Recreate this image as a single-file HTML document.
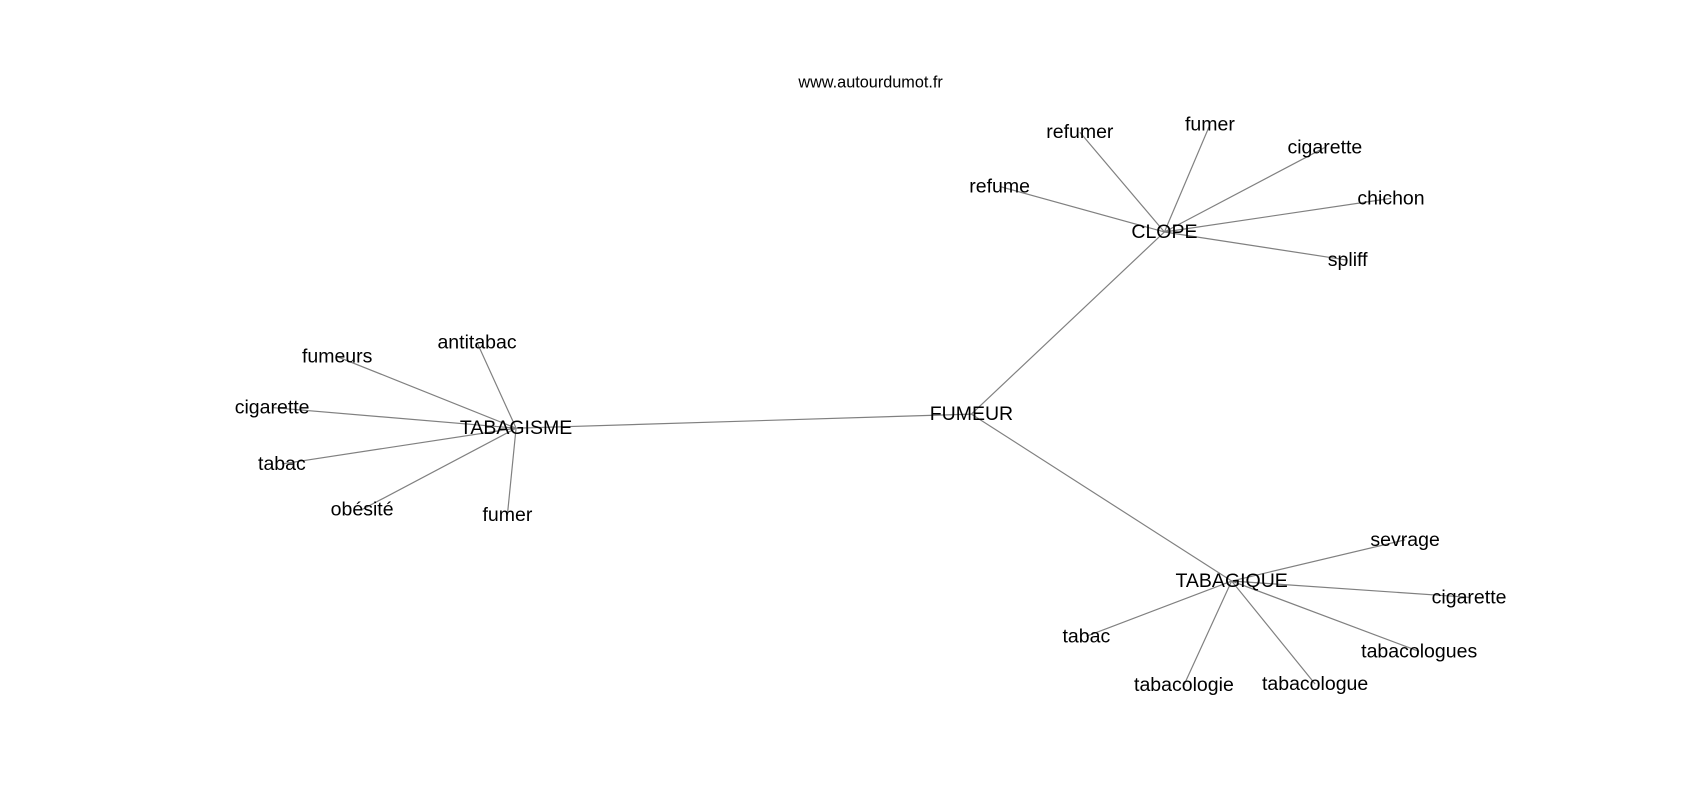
<!DOCTYPE html>
<html><head><meta charset="utf-8"><style>html,body{margin:0;padding:0;background:#fff}svg{display:block}</style></head>
<body>
<svg width="1700" height="800" viewBox="0 0 1568 738" preserveAspectRatio="none" xmlns="http://www.w3.org/2000/svg" font-family="Liberation Sans, DejaVu Sans, sans-serif">
<g stroke="#808080" stroke-width="1.1" fill="none">
<line x1="896" y1="382" x2="1074" y2="214"/>
<line x1="896" y1="382" x2="476" y2="395"/>
<line x1="896" y1="382" x2="1136" y2="536"/>
<line x1="1074" y1="214" x2="996" y2="122"/>
<line x1="1074" y1="214" x2="1116" y2="115"/>
<line x1="1074" y1="214" x2="1222" y2="136"/>
<line x1="1074" y1="214" x2="1283" y2="183"/>
<line x1="1074" y1="214" x2="1243" y2="240"/>
<line x1="1074" y1="214" x2="922" y2="172"/>
<line x1="476" y1="395" x2="440" y2="316"/>
<line x1="476" y1="395" x2="311" y2="329"/>
<line x1="476" y1="395" x2="251" y2="376"/>
<line x1="476" y1="395" x2="260" y2="428"/>
<line x1="476" y1="395" x2="334" y2="470"/>
<line x1="476" y1="395" x2="468" y2="475"/>
<line x1="1136" y1="536" x2="1296" y2="498"/>
<line x1="1136" y1="536" x2="1355" y2="551"/>
<line x1="1136" y1="536" x2="1309" y2="601"/>
<line x1="1136" y1="536" x2="1213" y2="631"/>
<line x1="1136" y1="536" x2="1092" y2="632"/>
<line x1="1136" y1="536" x2="1002" y2="587"/>
</g>
<g font-size="18" fill="#000" text-anchor="middle" dominant-baseline="central">
<text x="803" y="76" font-size="15">www.autourdumot.fr</text>
<text x="896" y="382">FUMEUR</text>
<text x="1074" y="214">CLOPE</text>
<text x="476" y="395">TABAGISME</text>
<text x="1136" y="536">TABAGIQUE</text>
<text x="996" y="122">refumer</text>
<text x="1116" y="115">fumer</text>
<text x="1222" y="136">cigarette</text>
<text x="1283" y="183">chichon</text>
<text x="1243" y="240">spliff</text>
<text x="922" y="172">refume</text>
<text x="440" y="316">antitabac</text>
<text x="311" y="329">fumeurs</text>
<text x="251" y="376">cigarette</text>
<text x="260" y="428">tabac</text>
<text x="334" y="470">obésité</text>
<text x="468" y="475">fumer</text>
<text x="1296" y="498">sevrage</text>
<text x="1355" y="551">cigarette</text>
<text x="1309" y="601">tabacologues</text>
<text x="1213" y="631">tabacologue</text>
<text x="1092" y="632">tabacologie</text>
<text x="1002" y="587">tabac</text>
</g>
</svg>
</body></html>
